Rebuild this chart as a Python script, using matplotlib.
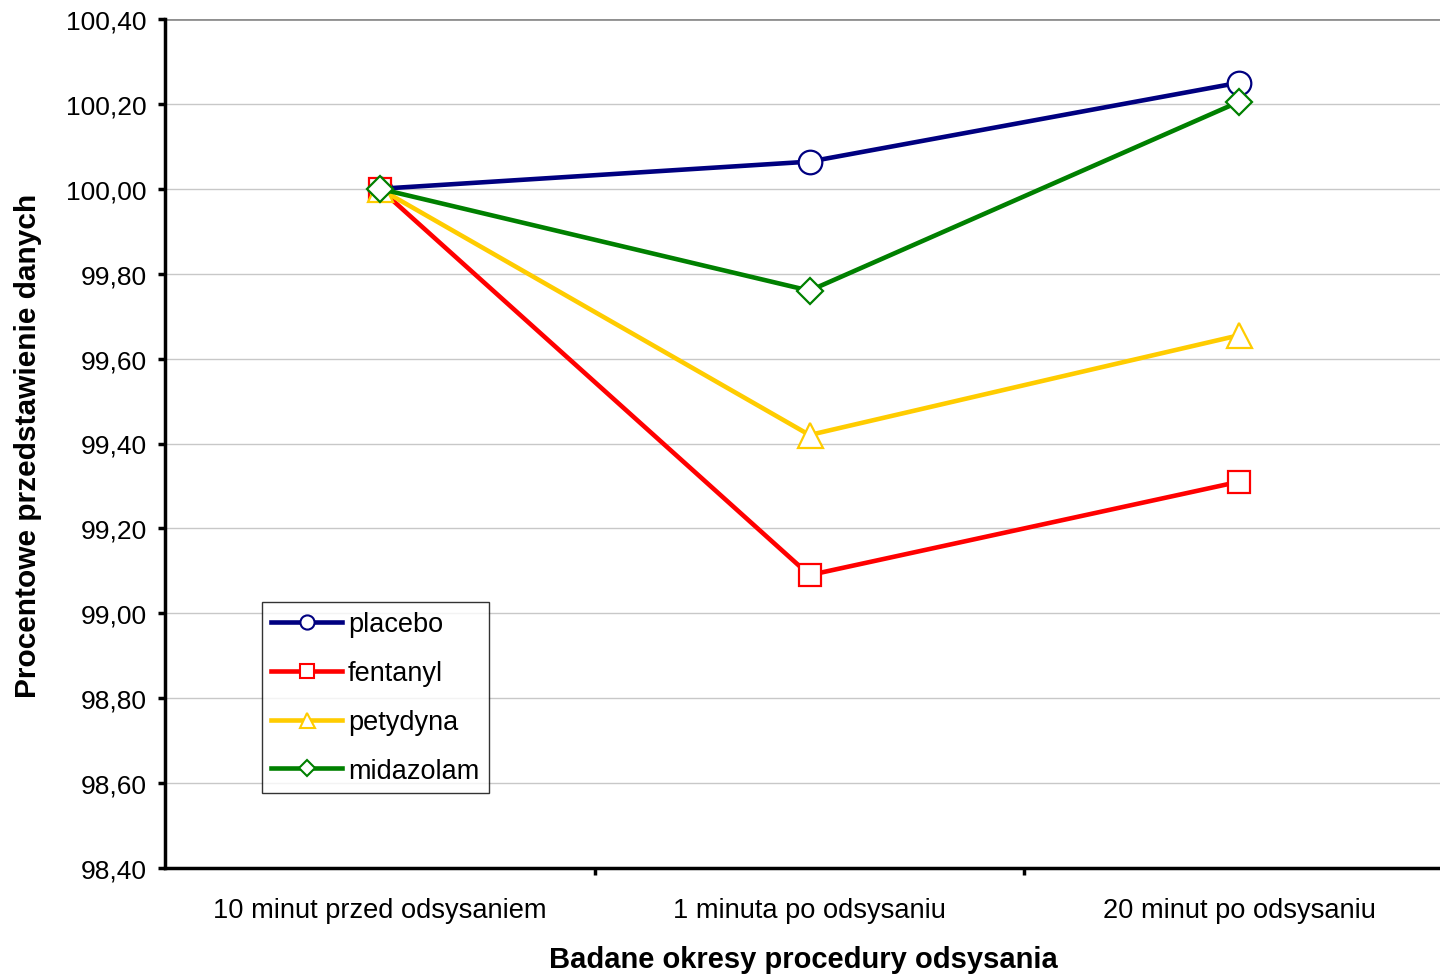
import matplotlib
matplotlib.use("Agg")
import matplotlib.pyplot as plt
from matplotlib.lines import Line2D

plt.rcParams['font.family'] = ['Liberation Sans', 'DejaVu Sans']

categories = ["10 minut przed odsysaniem", "1 minuta po odsysaniu", "20 minut po odsysaniu"]
placebo = [100.00, 100.064, 100.25]
fentanyl = [100.00, 99.09, 99.31]
petydyna = [100.00, 99.42, 99.655]
midazolam = [100.00, 99.76, 100.205]
series_names = ["placebo", "fentanyl", "petydyna", "midazolam"]
yticks = [98.40, 98.60, 98.80, 99.00, 99.20, 99.40, 99.60, 99.80, 100.00, 100.20, 100.40]

colors = ["#000080", "#FF0000", "#FFCC00", "#008000"]
markers = ["o", "s", "^", "D"]
msizes = [17, 16, 18, 13.5]

fig = plt.figure(figsize=(14.4, 9.79), dpi=100)
ax = fig.add_axes([165/1440, 110/979, 1289/1440, 849/979])

x = list(range(len(categories)))
for vals, c, m, ms, name in zip([placebo, fentanyl, petydyna, midazolam], colors, markers, msizes, series_names):
    ax.plot(x, vals, color=c, lw=3.3, marker=m, ms=ms, mfc="white", mec=c, mew=1.6, label=name,
            clip_on=False, zorder=3)

ax.set_xlim(-0.5, 2.5)
ax.set_ylim(98.40, 100.40)
ax.set_yticks(yticks)
ax.set_yticklabels([f"{v:.2f}".replace(".", ",") for v in yticks], fontsize=19)
ax.set_xticks(x)
ax.set_xticklabels(categories, fontsize=19.6)
ax.tick_params(axis="x", length=0, pad=21)
ax.set_xticks([0.5, 1.5], minor=True)
ax.tick_params(axis="x", which="minor", length=5, width=2.5, direction="out")
ax.tick_params(axis="y", length=5, width=2.5, direction="out", pad=8)

ax.grid(axis="y", color="#C8C8C8", lw=1)
ax.set_axisbelow(True)
for s in ["top", "right"]:
    ax.spines[s].set_visible(False)
ax.axhline(100.40, color="#909090", lw=2, zorder=1)
for s in ["left", "bottom"]:
    ax.spines[s].set_linewidth(2.5)
    ax.spines[s].set_color("black")

fig.text(28/1440, 1-446/979, "Procentowe przedstawienie danych", rotation=90,
         ha="center", va="center", fontsize=21.5, fontweight="bold")
fig.text(803/1440, 1-960/979, "Badane okresy procedury odsysania",
         ha="center", va="center", fontsize=21, fontweight="bold")

handles = [Line2D([0], [0], color=c, lw=3.3, marker=m, ms=ms*0.6, mfc="white", mec=c, mew=1.5)
           for c, m, ms in zip(colors, markers, msizes)]
leg = fig.legend(handles, series_names, loc="upper left", bbox_to_anchor=(262/1440, 1-603/979),
                 fontsize=19.5, frameon=True, fancybox=False, edgecolor="black",
                 handlelength=2.6, labelspacing=0.84, borderpad=0.35, handletextpad=0.22,
                 borderaxespad=0)
leg.get_frame().set_linewidth(1)

fig.savefig("out.png", dpi=100)
